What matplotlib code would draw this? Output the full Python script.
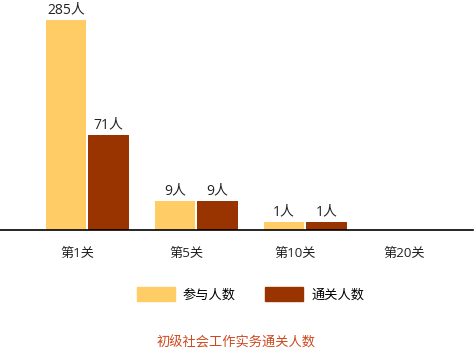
import numpy as np
import matplotlib
matplotlib.use("Agg")
import matplotlib.pyplot as plt
from matplotlib.patches import Patch

plt.rcParams['font.family'] = ['Open Sans', 'Noto Sans CJK SC', 'DejaVu Sans']

levels = ['第1关', '第5关', '第10关', '第20关']
joined = [285, 9, 1, 0]
passed = [71, 9, 1, 0]
series_names = ['参与人数', '通关人数']
title = '初级社会工作实务通关人数'

c_join = '#ffcc66'
c_pass = '#993300'

# bar heights in the source are compressed, a power scale fits them well
p = 0.57
fwd = lambda v: np.sign(v) * np.abs(v) ** p
inv = lambda v: np.sign(v) * np.abs(v) ** (1 / p)

fig = plt.figure(figsize=(4.75, 3.56), dpi=100)
ax = fig.add_axes([0, 0.354, 0.996, 0.646])
ax.set_yscale('function', functions=(fwd, inv))

x = np.arange(len(levels))
w = 0.37
gap = 0.01
b1 = ax.bar(x - w / 2 - gap, joined, w, color=c_join)
b2 = ax.bar(x + w / 2 + gap, passed, w, color=c_pass)

for bars, vals in [(b1, joined), (b2, passed)]:
    for r, v in zip(bars, vals):
        if v <= 0:
            continue
        ax.annotate('%d人' % v, (r.get_x() + r.get_width() / 2, v),
                    xytext=(0, 2), textcoords='offset points',
                    ha='center', va='bottom', fontsize=10, color='#222222')

top = inv(fwd(285) * 230 / 209.5)
ax.set_ylim(0, top)
ax.set_xlim(-0.8, 3.54)

for s in ['top', 'right', 'left']:
    ax.spines[s].set_visible(False)
ax.spines['bottom'].set_linewidth(1.2)
ax.set_yticks([])
ax.set_xticks(x - 0.09)
ax.set_xticklabels(levels, fontsize=9.5, color='#222222')
ax.tick_params(axis='x', length=0, pad=12)

handles = [Patch(color=c_join), Patch(color=c_pass)]
fig.legend(handles, series_names, loc='center', bbox_to_anchor=(0.527, 0.174),
           ncol=2, frameon=False, fontsize=9.5, handlelength=2.9,
           handleheight=1.3, handletextpad=0.6, columnspacing=2.2)

fig.text(0.497, 0.037, title, ha='center', va='center', fontsize=9.5,
         color='#cc4a1f')

fig.savefig('out.png', dpi=100)
